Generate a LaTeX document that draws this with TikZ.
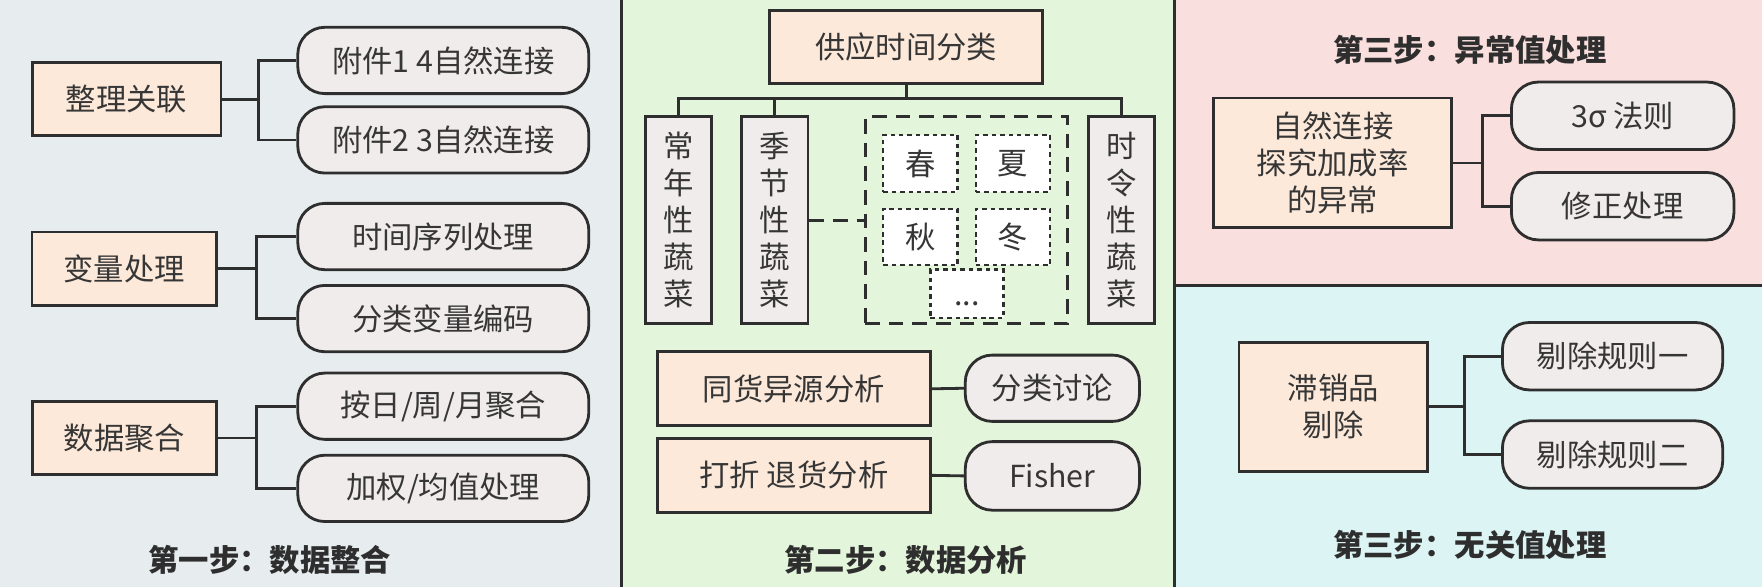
\documentclass[tikz,border=0pt]{standalone}
\usepackage{fontspec}
\setmainfont{Noto Sans CJK SC}
\definecolor{bgA}{HTML}{E7ECEF}
\definecolor{bgB}{HTML}{E3F5DB}
\definecolor{bgC}{HTML}{F9DFDD}
\definecolor{bgD}{HTML}{DDF4F4}
\definecolor{peach}{HTML}{FCE9DA}
\definecolor{pillc}{HTML}{F0ECEB}
\definecolor{ln}{HTML}{2E2E2E}
\definecolor{txt}{HTML}{363636}
\begin{document}
\begin{tikzpicture}[x=1pt,y=-1pt,
  every node/.style={inner sep=0pt, text=txt, font=\fontsize{27}{33}\selectfont},
  box/.style={draw=ln, line width=2.5pt, fill=peach, minimum height=65pt, align=center},
  pill/.style={draw=ln, line width=2.5pt, fill=pillc, rounded corners=24pt, minimum height=59pt},
  vbox/.style={draw=ln, line width=2.5pt, fill=pillc, minimum height=184pt, minimum width=59pt, align=center},
  sbox/.style={draw=ln, line width=2.2pt, fill=white, dash pattern=on 4pt off 3.5pt},
  conn/.style={draw=ln, line width=2.5pt},
  title/.style={font=\fontsize{27}{30}\selectfont\bfseries, text=ln}
]
\useasboundingbox (0,0) rectangle (1568,522);
% panels
\fill[bgA] (0,0) rectangle (553,522);
\fill[bgB] (553,0) rectangle (1045,522);
\fill[bgC] (1045,0) rectangle (1568,254);
\fill[bgD] (1045,254) rectangle (1568,522);
\draw[ln, line width=2.5pt] (553,0) -- (553,522);
\draw[ln, line width=2.5pt] (1045,0) -- (1045,522);
\draw[ln, line width=2.5pt] (1045,254) -- (1568,254);

% ---------- panel 1 ----------
\node[box, minimum width=168pt] (r11) at (112.6,88.4) {整理关联};
\node[pill, minimum width=259pt] (p11) at (394.5,53.8) {附件1 4自然连接};
\node[pill, minimum width=259pt] (p12) at (394.5,124.5) {附件2 3自然连接};
\coordinate (j11) at (230,88.4);
\draw[conn] (r11.east) -- (j11);
\draw[conn] (p11.west) -| (j11) |- (p12.west);

\node[box, minimum width=164pt] (r12) at (110.5,239) {变量处理};
\node[pill, minimum width=259pt] (p13) at (394.5,210.5) {时间序列处理};
\node[pill, minimum width=259pt] (p14) at (394.5,283.5) {分类变量编码};
\coordinate (j12) at (228,239);
\draw[conn] (r12.east) -- (j12);
\draw[conn] (p13.west) -| (j12) |- (p14.west);

\node[box, minimum width=164pt] (r13) at (110.8,389.8) {数据聚合};
\node[pill, minimum width=259pt] (p15) at (394.5,361.5) {按日/周/月聚合};
\node[pill, minimum width=259pt] (p16) at (394.5,434.6) {加权/均值处理};
\coordinate (j13) at (228,389.8);
\draw[conn] (r13.east) -- (j13);
\draw[conn] (p15.west) -| (j13) |- (p16.west);

\node[title] (t1) at (240,498) {第一步：数据整合};

% ---------- panel 2 ----------
\node[box, minimum width=243pt] (top) at (806.5,41.5) {供应时间分类};
\node[vbox] (v1) at (604,196) {常\\年\\性\\蔬\\菜};
\node[vbox] (v2) at (689.5,196) {季\\节\\性\\蔬\\菜};
\node[vbox] (v3) at (998,196) {时\\令\\性\\蔬\\菜};
\coordinate (bus) at (806.5,88);
\draw[conn] (top.south) -- (bus);
\draw[conn] (v1.north) |- (bus) -| (v3.north);
\draw[conn] (v2.north) -- (v2.north |- bus);
\node[draw=ln, line width=2.5pt, dash pattern=on 13pt off 8pt, minimum width=180pt, minimum height=184pt] (dbox) at (860,196) {};
\draw[conn, dash pattern=on 13pt off 8pt] (v2.east) -- (dbox.west);
\node[sbox, minimum width=66pt, minimum height=51pt] (s1) at (819,145.5) {春};
\node[sbox, minimum width=66pt, minimum height=51pt] (s2) at (901.5,145.5) {夏};
\node[sbox, minimum width=66pt, minimum height=50pt] (s3) at (819,211) {秋};
\node[sbox, minimum width=66pt, minimum height=50pt] (s4) at (901.5,211) {冬};
\node[sbox, minimum width=65pt, minimum height=43pt] (s5) at (860.5,261.5) {\vphantom{春}...};

\node[box, minimum width=243pt, minimum height=66pt] (r21) at (706.5,346) {同货异源分析};
\node[box, minimum width=243pt, minimum height=66pt] (r22) at (706.5,423) {打折 退货分析};
\node[pill, minimum width=155pt] (p21) at (936.5,345.5) {分类讨论};
\node[pill, minimum width=155pt, minimum height=61pt] (p22) at (936.5,423.5) {Fisher};
\draw[conn] (r21.east) -- (p21.west);
\draw[conn] (r22.east) -- (p22.west);

\node[title] (t2) at (806,498) {第二步：数据分析};

% ---------- panel 3 ----------
\node[title] (t3) at (1308,44.5) {第三步：异常值处理};
\node[box, minimum width=212pt, minimum height=115.5pt] (r31) at (1186,145) {自然连接\\探究加成率\\的异常};
\node[pill, minimum width=198pt, minimum height=60pt] (p31) at (1444,103) {3σ 法则};
\node[pill, minimum width=198pt, minimum height=60pt] (p32) at (1444,183.5) {修正处理};
\coordinate (j31) at (1319,145);
\draw[conn] (r31.east) -- (j31);
\draw[conn] (p31.west) -| (j31) |- (p32.west);

% ---------- panel 4 ----------
\node[box, minimum width=168pt, minimum height=114.5pt] (r41) at (1186.5,362) {滞销品\\剔除};
\node[pill, minimum width=196pt, minimum height=60pt] (p41) at (1435,317) {剔除规则一};
\node[pill, minimum width=196pt, minimum height=60pt] (p42) at (1435,404.5) {剔除规则二};
\coordinate (j41) at (1303,362);
\draw[conn] (r41.east) -- (j41);
\draw[conn] (p41.west) -| (j41) |- (p42.west);

\node[title] (t4) at (1308,485) {第三步：无关值处理};
\end{tikzpicture}
\end{document}
